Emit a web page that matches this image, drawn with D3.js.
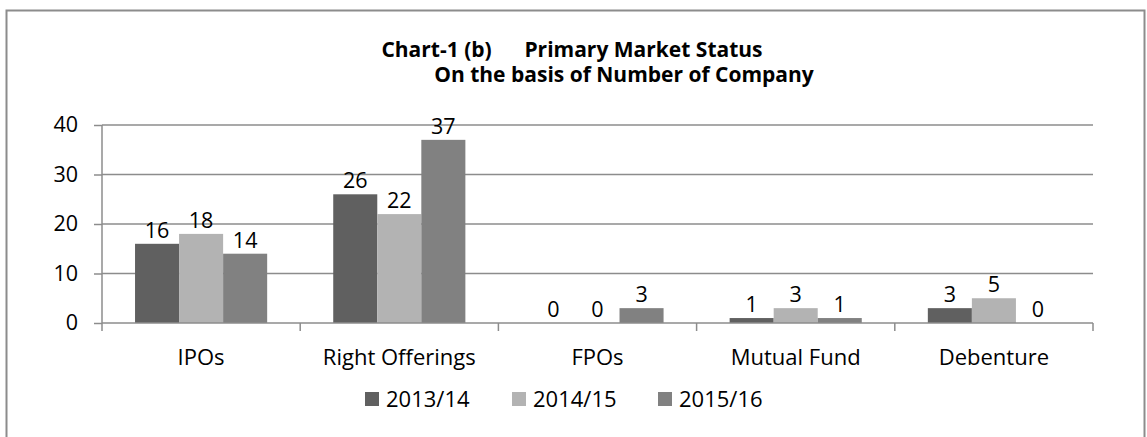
<!DOCTYPE html>
<html>
<head>
<meta charset="utf-8">
<script src="https://cdn.jsdelivr.net/npm/d3@7"></script>
<style>
  html, body { margin: 0; padding: 0; background: #fff; }
  svg { display: block; font-family: "Open Sans", sans-serif; }
  text { white-space: pre; }
</style>
</head>
<body>
<svg id="chart" width="1147" height="437"></svg>
<script>
const categories = ["IPOs", "Right Offerings", "FPOs", "Mutual Fund", "Debenture"];
const seriesNames = ["2013/14", "2014/15", "2015/16"];
const values2013 = [16, 26, 0, 1, 3];
const values2014 = [18, 22, 0, 3, 5];
const values2015 = [14, 37, 3, 1, 0];
const seriesColors = ["#606060", "#b3b3b3", "#818181"];
const yTicks = [0, 10, 20, 30, 40];
const titleLine1 = "Chart-1 (b)      Primary Market Status";
const titleLine2 = "On the basis of Number of Company";

const seriesValues = [values2013, values2014, values2015];

(function () {
const svg = d3.select("#chart");
const pLeft = 102, pRight = 1093, pTop = 125, pBottom = 323;

// outer border
svg.append("rect")
  .attr("x", 6.5).attr("y", 10.5)
  .attr("width", 1138).attr("height", 440)
  .attr("fill", "none").attr("stroke", "#8c8c8c").attr("stroke-width", 2);

const x = d3.scaleBand().domain(categories).range([pLeft, pRight]).padding(0);
const x1 = d3.scaleBand().domain(seriesNames).range([0, x.bandwidth()])
  .paddingInner(0).paddingOuter(0.75);
const y = d3.scaleLinear().domain([0, 40]).range([pBottom, pTop]);

// gridlines
svg.append("g").selectAll("line").data(yTicks.filter(d => d > 0)).join("line")
  .attr("x1", pLeft).attr("x2", pRight)
  .attr("y1", d => y(d)).attr("y2", d => y(d))
  .attr("stroke", "#8c8c8c").attr("stroke-width", 1.5);

// y axis
const yAxis = d3.axisLeft(y).tickValues(yTicks).tickSize(8).tickPadding(16);
const gy = svg.append("g").attr("transform", `translate(${pLeft},0)`).call(yAxis);
gy.select(".domain").attr("stroke", "#8c8c8c").attr("stroke-width", 1.5)
  .attr("d", `M0,${pTop}V${pBottom}`);
gy.selectAll(".tick line").attr("stroke", "#8c8c8c").attr("stroke-width", 1.5);
gy.selectAll(".tick text").attr("font-size", 21.5).attr("fill", "#000")
  .attr("font-family", "Open Sans");

// bars
const groups = svg.append("g").selectAll("g").data(categories).join("g")
  .attr("transform", d => `translate(${x(d)},0)`);

groups.selectAll("rect")
  .data((c, i) => seriesNames.map((s, j) => ({ s, j, v: seriesValues[j][i] })))
  .join("rect")
  .attr("x", d => x1(d.s))
  .attr("width", x1.bandwidth())
  .attr("y", d => y(d.v))
  .attr("height", d => y(0) - y(d.v))
  .attr("fill", d => seriesColors[d.j]);

groups.selectAll("text.lbl")
  .data((c, i) => seriesNames.map((s, j) => ({ s, j, v: seriesValues[j][i] })))
  .join("text").attr("class", "lbl")
  .attr("x", d => x1(d.s) + x1.bandwidth() / 2)
  .attr("y", d => y(d.v) - 6)
  .attr("text-anchor", "middle")
  .attr("font-size", 21.5)
  .attr("fill", "#000")
  .text(d => d.v);

// x axis
const xAxis = d3.axisBottom(x).tickSize(0).tickPadding(0);
const gx = svg.append("g").attr("transform", `translate(0,${pBottom})`).call(xAxis);
gx.select(".domain").attr("stroke", "#8c8c8c").attr("stroke-width", 1.5)
  .attr("d", `M${pLeft},0H${pRight}`);
gx.selectAll(".tick text").attr("font-size", 22).attr("fill", "#000")
  .attr("font-family", "Open Sans").attr("dy", null).attr("y", 42);
// category boundary ticks
const bounds = categories.map(c => x(c)).concat([pRight]);
gx.append("g").selectAll("line").data(bounds).join("line")
  .attr("x1", d => d).attr("x2", d => d)
  .attr("y1", 0).attr("y2", 8)
  .attr("stroke", "#8c8c8c").attr("stroke-width", 1.5);

// title
svg.append("text").attr("x", 572).attr("y", 57)
  .attr("text-anchor", "middle").attr("font-weight", "bold")
  .attr("font-size", 21).attr("fill", "#000").text(titleLine1);
svg.append("text").attr("x", 624).attr("y", 82)
  .attr("text-anchor", "middle").attr("font-weight", "bold")
  .attr("font-size", 21).attr("fill", "#000").text(titleLine2);

// legend
const legendX = [365, 512, 658];
const lg = svg.append("g").selectAll("g").data(seriesNames).join("g")
  .attr("transform", (d, i) => `translate(${legendX[i]},392)`);
lg.append("rect").attr("width", 14).attr("height", 14)
  .attr("fill", (d, i) => seriesColors[i]);
lg.append("text").attr("x", 21).attr("y", 15).attr("font-size", 22)
  .attr("fill", "#000").text(d => d);
})();
</script>
</body>
</html>
